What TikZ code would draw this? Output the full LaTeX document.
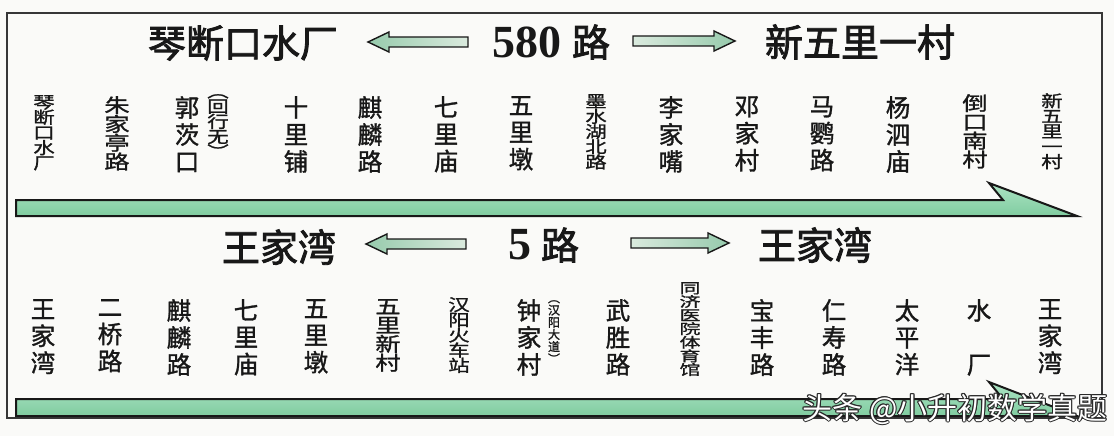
\documentclass[tikz,border=0pt]{standalone}
\usepackage{fontspec}
\setmainfont{Liberation Serif}
\newfontfamily\cjkt{Noto Sans CJK SC}[FakeBold=2.2]
\newfontfamily\cjk{Noto Sans CJK SC}[FakeBold=1.3]
\newfontfamily\cjkw{Noto Sans CJK SC}[FakeStretch=1.3,FakeBold=1.3]
\newfontfamily\cjkx{Noto Sans CJK SC}[FakeStretch=1.5,FakeBold=1.2]
\newfontfamily\cjkm{Noto Sans CJK SC}
\lineskiplimit=-100pt
\definecolor{ink}{RGB}{24,24,24}
\definecolor{framec}{RGB}{55,55,55}
\definecolor{barT}{RGB}{172,228,196}
\definecolor{barB}{RGB}{128,204,160}
\definecolor{arL}{RGB}{218,234,222}
\definecolor{arD}{RGB}{150,202,172}
\definecolor{wmd}{RGB}{40,40,40}
\definecolor{bg}{RGB}{250,250,248}
\newcommand\wmtext[1]{\leavevmode
  \rlap{\color{wmd}\kern-1.1pt#1}\rlap{\color{wmd}\kern1.1pt#1}%
  \rlap{\color{wmd}\raisebox{1.1pt}{#1}}\rlap{\color{wmd}\raisebox{-1.1pt}{#1}}%
  \rlap{\color{wmd}\kern0.8pt\raisebox{0.8pt}{#1}}\rlap{\color{wmd}\kern-0.8pt\raisebox{-0.8pt}{#1}}%
  \rlap{\color{wmd}\kern0.8pt\raisebox{-0.8pt}{#1}}\rlap{\color{wmd}\kern-0.8pt\raisebox{0.8pt}{#1}}%
  {\color{white}#1}}
\tikzset{
  title/.style={inner sep=0pt, text=ink, font=\cjkt\fontsize{38}{42}\selectfont},
  num/.style={inner sep=0pt, text=ink, font=\bfseries\fontsize{46}{50}\selectfont},
  st/.style={inner sep=0pt, anchor=north, align=center, text=ink},
  sA/.style={st, font=\cjk\fontsize{24.5}{27}\selectfont},
  sB/.style={st, font=\cjkw\fontsize{19.5}{18.8}\selectfont},
  sC/.style={st, font=\cjkw\fontsize{16.5}{15.2}\selectfont},
  sD/.style={st, font=\cjkx\fontsize{14}{13.6}\selectfont},
  sE/.style={st, font=\cjk\fontsize{12}{12.2}\selectfont},
  sW/.style={st, font=\cjk\fontsize{24.5}{54}\selectfont},
  blockarrow/.style={draw=ink, line width=1.4pt, line join=miter},
  bar/.style={draw=ink, line width=2pt, line join=miter, top color=barT, bottom color=barB},
  wm/.style={inner sep=0pt, font=\cjkm\fontsize{30}{34}\selectfont},
}
\begin{document}
\begin{tikzpicture}[x=1pt,y=-1pt]
\useasboundingbox (0,0) rectangle (1114,436);
\fill[bg] (0,0) rectangle (1114,436);
\draw[framec, line width=1.3pt] (7,13) rectangle (1102,418);

% ---- route 580 ----
\node[title] (a1) at (243,43) {琴断口水厂};
\node[num] (n580) at (527,42) {580};
\node[title] (lu1) at (591,42) {路};
\node[title] (b1) at (860,42) {新五里一村};
\draw[blockarrow, left color=arD, right color=arL]
  (368,42) -- (389,32) -- (389,37) -- (468,37) -- (468,47) -- (389,47) -- (389,52) -- cycle;
\draw[blockarrow, left color=arL, right color=arD]
  (735,41) -- (714,31) -- (714,36) -- (633,36) -- (633,46) -- (714,46) -- (714,51) -- cycle;

\node[sC] (s1) at (44,95) {琴\\断\\口\\水\\厂};
\node[sB] (s2) at (117,96) {朱\\家\\亭\\路};
\node[sA] (s3) at (187,96) {郭\\茨\\口};
\node[sC] (s3p) at (218,94) {︵\\回\\行\\无\\︶};
\node[sA] (s4) at (296,96) {十\\里\\铺};
\node[sA] (s5) at (370,96) {麒\\麟\\路};
\node[sA] (s6) at (446,96) {七\\里\\庙};
\node[sA] (s7) at (521,96) {五\\里\\墩};
\node[sC] (s8) at (596,94) {墨\\水\\湖\\北\\路};
\node[sA] (s9) at (671,96) {李\\家\\嘴};
\node[sA] (s10) at (747,96) {邓\\家\\村};
\node[sA] (s11) at (822,96) {马\\鹦\\路};
\node[sA] (s12) at (898,96) {杨\\泗\\庙};
\node[sB] (s13) at (975,94) {倒\\口\\南\\村};
\node[sC] (s14) at (1052,93) {新\\五\\里\\一\\村};

\draw[bar] (16,200) -- (1003,200) -- (989,183) -- (1077,216) -- (16,216) -- cycle;

% ---- route 5 ----
\node[title] (a2) at (279,247) {王家湾};
\node[num] (n5) at (520,245) {5};
\node[title] (lu2) at (560,245) {路};
\node[title] (b2) at (815,245) {王家湾};
\draw[blockarrow, left color=arD, right color=arL]
  (366,244) -- (387,234) -- (387,239) -- (466,239) -- (466,249) -- (387,249) -- (387,254) -- cycle;
\draw[blockarrow, left color=arL, right color=arD]
  (729,243) -- (708,233) -- (708,238) -- (631,238) -- (631,248) -- (708,248) -- (708,253) -- cycle;

\node[sA] (t1) at (43,299) {王\\家\\湾};
\node[sA] (t2) at (110,299) {二\\桥\\路};
\node[sA] (t3) at (179,299) {麒\\麟\\路};
\node[sA] (t4) at (246,299) {七\\里\\庙};
\node[sA] (t5) at (316,299) {五\\里\\墩};
\node[sB] (t6) at (388,299) {五\\里\\新\\村};
\node[sC] (t7) at (459,297) {汉\\阳\\火\\车\\站};
\node[sA] (t8) at (529,299) {钟\\家\\村};
\node[sE] (t8p) at (554,300) {︵\\汉\\阳\\大\\道\\︶};
\node[sA] (t9) at (618,299) {武\\胜\\路};
\node[sD] (t10) at (690,282) {同\\济\\医\\院\\体\\育\\馆};
\node[sA] (t11) at (762,299) {宝\\丰\\路};
\node[sA] (t12) at (834,299) {仁\\寿\\路};
\node[sA] (t13) at (907,299) {太\\平\\洋};
\node[sW] (t14) at (979,299) {水\\厂};
\node[sA] (t15) at (1050,299) {王\\家\\湾};

\draw[bar] (16,399) -- (1003,399) -- (989,382) -- (1077,416) -- (16,416) -- cycle;

% ---- watermark ----
\node[wm] (wm) at (955,409) {\wmtext{头条 @小升初数学真题}};
\end{tikzpicture}
\end{document}
